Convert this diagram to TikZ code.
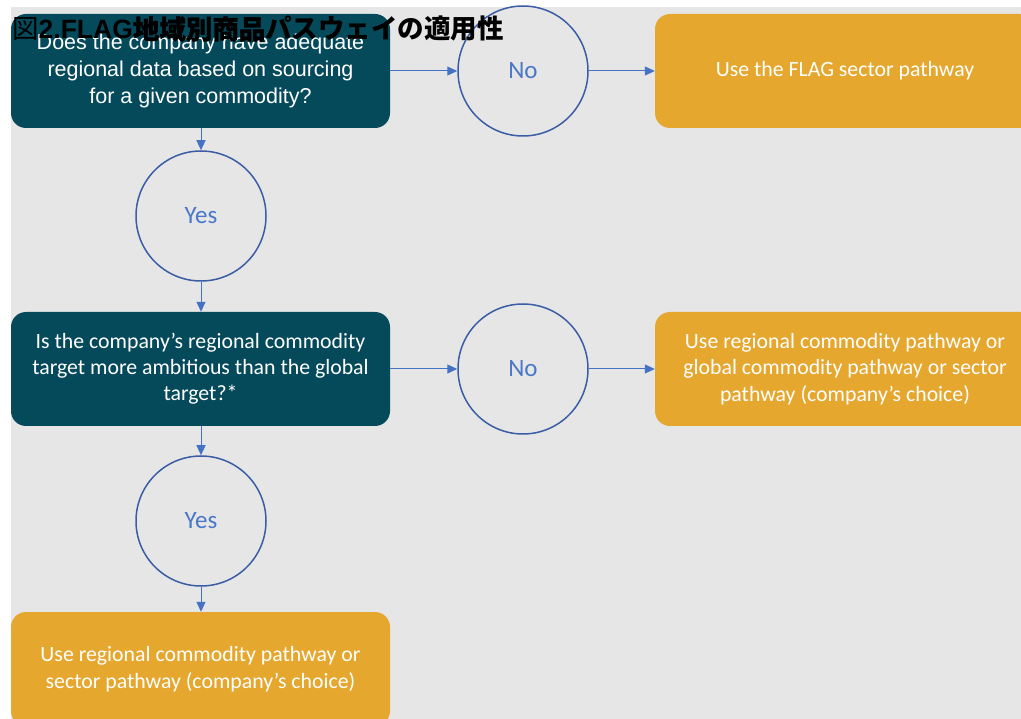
\documentclass[tikz,border=0pt]{standalone}
\usepackage{fontspec}
\setmainfont{Carlito}
\newfontfamily\arialfont{Liberation Sans}
\newfontfamily\cjkfont{Noto Sans CJK JP}
\newfontfamily\cjkboldfont{Noto Sans CJK JP}[FakeBold=1.2]
\usetikzlibrary{arrows.meta}
\definecolor{teal}{HTML}{054A5B}
\definecolor{gold}{HTML}{E5A72E}
\definecolor{bggray}{HTML}{E6E6E6}
\definecolor{ring}{HTML}{3A5DA5}
\definecolor{arrowblue}{HTML}{4472C4}
\definecolor{yesno}{HTML}{4A78C8}
\begin{document}
\begin{tikzpicture}[x=1pt,y=-1pt,
  question/.style={fill=teal,rounded corners=15pt,minimum width=379pt,minimum height=114pt,text=white,align=center,inner sep=0pt},
  answer/.style={fill=gold,rounded corners=15pt,minimum width=380pt,minimum height=114pt,text=white,align=center,inner sep=0pt,font=\fontsize{21.8}{26.5}\selectfont},
  decision/.style={circle,draw=ring,line width=1.5pt,minimum size=130pt,inner sep=0pt,text=yesno,font=\fontsize{25}{28}\selectfont},
  arr/.style={draw=arrowblue,line width=1pt,-{Triangle[length=10pt,width=9pt]}}]
\useasboundingbox (0,0) rectangle (1021,719);
\fill[bggray] (11,7) rectangle (1021,719);
% questions
\node[question,font=\arialfont\fontsize{21.5}{27}\selectfont] (q1) at (200.5,71) {Does the company have adequate\\regional data based on sourcing\\for a given commodity?};
\node[question,font=\fontsize{21.8}{26}\selectfont] (q2) at (200.5,369) {Is the company’s regional commodity\\target more ambitious than the global\\target?*};
% decisions
\node[decision] (no1) at (523,71) {No};
\node[decision] (yes1) at (201,216) {Yes};
\node[decision] (no2) at (523,369) {No};
\node[decision] (yes2) at (201,521) {Yes};
% answers
\node[answer] (a1) at (845,71) {Use the FLAG sector pathway};
\node[answer] (a2) at (845,369) {Use regional commodity pathway or\\global commodity pathway or sector\\pathway (company’s choice)};
\node[answer,minimum width=379pt] (a3) at (200.5,669) {Use regional commodity pathway or\\sector pathway (company’s choice)};
% connectors
\draw[arr] (q1.east) -- (no1.west);
\draw[arr] (no1.east) -- (a1.west);
\draw[arr] (q1.south -| yes1) -- (yes1.north);
\draw[arr] (yes1.south) -- (q2.north -| yes1);
\draw[arr] (q2.east) -- (no2.west);
\draw[arr] (no2.east) -- (a2.west);
\draw[arr] (q2.south -| yes2) -- (yes2.north);
\draw[arr] (yes2.south) -- (a3.north -| yes2);
% title
\node[anchor=base west,inner sep=0pt,font=\fontsize{26.5}{30}\selectfont] (title) at (12,39) {\cjkfont 図\arialfont\bfseries 2.FLAG\cjkboldfont 地域別商品\cjkfont パスウェイの適用性};
\end{tikzpicture}
\end{document}
